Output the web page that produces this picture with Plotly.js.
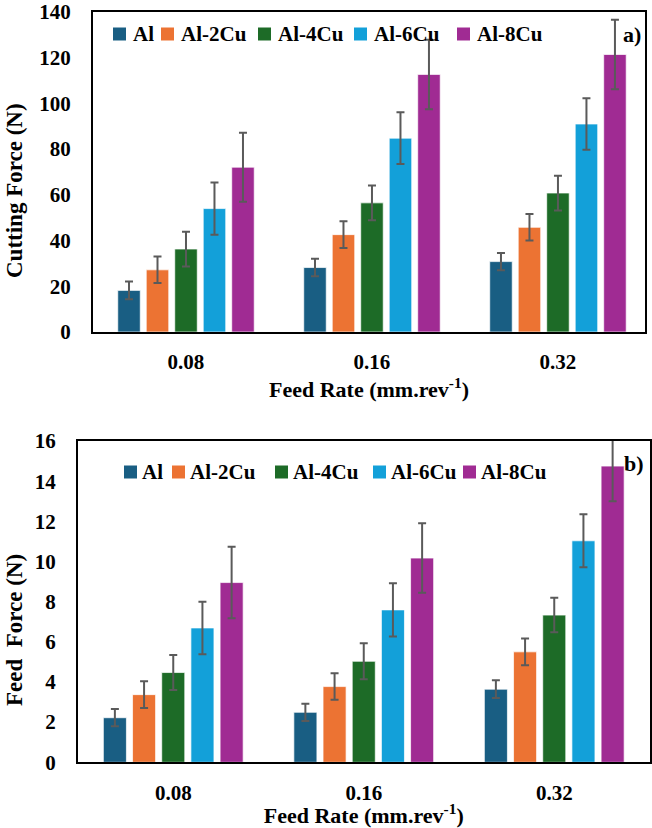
<!DOCTYPE html>
<html>
<head>
<meta charset="utf-8">
<script src="https://cdn.plot.ly/plotly-3.0.1.min.js"></script>
<style>
  html, body { margin: 0; padding: 0; background: #fff; }
  #chart { width: 652px; height: 828px; }
</style>
</head>
<body>
<div id="chart"></div>
<script>
// Feed rates (mm/rev) and alloy series
const feedRates = ['0.08', '0.16', '0.32'];
const alloys = ['Al', 'Al-2Cu', 'Al-4Cu', 'Al-6Cu', 'Al-8Cu'];
const alloyColors = ['#195E83', '#EC7333', '#1D6B27', '#13A0D9', '#A02B93'];

// a) Cutting force (N)
const cutAl   = [18.2, 28.2, 30.8];
const cut2Cu  = [27.2, 42.6, 45.8];
const cut4Cu  = [36.3, 56.5, 60.8];
const cut6Cu  = [54.0, 84.8, 91.0];
const cut8Cu  = [72.1, 112.7, 121.4];
const cutErrAl  = [3.9, 3.8, 3.8];
const cutErr2Cu = [5.8, 5.8, 5.8];
const cutErr4Cu = [7.6, 7.6, 7.6];
const cutErr6Cu = [11.4, 11.3, 11.3];
const cutErr8Cu = [15.1, 15.2, 15.2];

// b) Feed force (N)
const feedAl  = [2.22, 2.49, 3.64];
const feed2Cu = [3.37, 3.77, 5.50];
const feed4Cu = [4.47, 5.03, 7.33];
const feed6Cu = [6.69, 7.59, 11.03];
const feed8Cu = [8.95, 10.17, 14.75];
const feedErrAl  = [0.43, 0.43, 0.44];
const feedErr2Cu = [0.66, 0.66, 0.67];
const feedErr4Cu = [0.87, 0.90, 0.86];
const feedErr6Cu = [1.31, 1.33, 1.32];
const feedErr8Cu = [1.78, 1.73, 1.75];

const cutValues = [cutAl, cut2Cu, cut4Cu, cut6Cu, cut8Cu];
const cutErrors = [cutErrAl, cutErr2Cu, cutErr4Cu, cutErr6Cu, cutErr8Cu];
const feedValues = [feedAl, feed2Cu, feed4Cu, feed6Cu, feed8Cu];
const feedErrors = [feedErrAl, feedErr2Cu, feedErr4Cu, feedErr6Cu, feedErr8Cu];

const W = 652, H = 828;
const px = x => x / W;          // page px -> paper x
const py = y => 1 - y / H;      // page px -> paper y

const SERIF = '"Times New Roman", "Liberation Serif", serif';
const boldFont = (size) => ({ family: SERIF, size: size, color: '#000', weight: 'bold' });

function barTraces(values, errors, xa, ya) {
  return alloys.map((name, i) => ({
    type: 'bar',
    name: name,
    x: feedRates,
    y: values[i],
    xaxis: xa,
    yaxis: ya,
    showlegend: false,
    marker: { color: alloyColors[i], line: { color: 'rgba(255,255,255,0.7)', width: 1 } },
    error_y: { type: 'data', array: errors[i], visible: true, color: '#5A5A5A', thickness: 2, width: 4 },
    hoverinfo: 'x+y+name'
  }));
}

const traces = [
  ...barTraces(cutValues, cutErrors, 'x', 'y'),
  ...barTraces(feedValues, feedErrors, 'x2', 'y2')
];

// Hand-placed legend rows (square swatch + label)
const legendTopX = [113, 161, 258, 354, 457];
const legendBotX = [124, 172, 275, 373, 463];
const shapes = [];
const annotations = [];
function legendRow(xs, yc, gap) {
  xs.forEach((x0, i) => {
    shapes.push({
      type: 'rect', xref: 'paper', yref: 'paper',
      x0: px(x0), x1: px(x0 + 13), y0: py(yc + 6.5), y1: py(yc - 6.5),
      fillcolor: alloyColors[i], line: { width: 0 }
    });
    annotations.push({
      xref: 'paper', yref: 'paper', x: px(x0 + gap), y: py(yc),
      xanchor: 'left', yanchor: 'middle', showarrow: false,
      text: alloys[i], font: boldFont(21)
    });
  });
}
legendRow(legendTopX, 34, 18);
legendRow(legendBotX, 472, 16);

// Panel tags
annotations.push({ xref: 'paper', yref: 'paper', x: px(643), y: py(35), xanchor: 'right', yanchor: 'middle',
  showarrow: false, text: 'a)', font: boldFont(22) });
annotations.push({ xref: 'paper', yref: 'paper', x: px(646), y: py(463), xanchor: 'right', yanchor: 'middle',
  showarrow: false, text: 'b)', font: boldFont(22) });

// Y-axis titles
annotations.push({ xref: 'paper', yref: 'paper', x: px(14), y: py(191), xanchor: 'center', yanchor: 'middle',
  textangle: -90, showarrow: false, text: 'Cutting Force (N)', font: boldFont(23) });
annotations.push({ xref: 'paper', yref: 'paper', x: px(14), y: py(630), xanchor: 'center', yanchor: 'middle',
  textangle: -90, showarrow: false, text: 'Feed\u00a0 Force (N)', font: boldFont(23) });

const baseX = {
  type: 'category',
  showline: true, linecolor: '#000', linewidth: 2, mirror: true,
  showgrid: false, zeroline: false, ticks: '',
  tickfont: boldFont(21), ticklabelstandoff: 10,
  fixedrange: true
};
const baseY = {
  showline: true, linecolor: '#000', linewidth: 2, mirror: true,
  showgrid: false, zeroline: false, ticks: '',
  tickfont: boldFont(21), ticklabelstandoff: 16, ticklabeloverflow: 'allow',
  fixedrange: true
};

const layout = {
  width: W, height: H,
  margin: { l: 0, r: 0, t: 0, b: 0 },
  paper_bgcolor: '#fff', plot_bgcolor: '#fff',
  barmode: 'group', bargap: 0.234, bargroupgap: 0.21,
  showlegend: false,
  xaxis: Object.assign({}, baseX, {
    domain: [px(93), px(645)], anchor: 'y', range: [-0.5, 2.468],
    title: { text: 'Feed Rate (mm.rev<sup>-1</sup>)', font: boldFont(22), standoff: 4 }
  }),
  yaxis: Object.assign({}, baseY, {
    domain: [py(332), py(12)], anchor: 'x', range: [0, 140], dtick: 20
  }),
  xaxis2: Object.assign({}, baseX, {
    domain: [px(78), px(649.5)], anchor: 'y2', range: [-0.5, 2.5],
    title: { text: 'Feed Rate (mm.rev<sup>-1</sup>)', font: boldFont(22), standoff: 2 }
  }),
  yaxis2: Object.assign({}, baseY, {
    domain: [py(762.3), py(441)], anchor: 'x2', range: [0, 16], dtick: 2
  }),
  shapes: shapes,
  annotations: annotations
};

Plotly.newPlot('chart', traces, layout, { displayModeBar: false, staticPlot: true });
</script>
</body>
</html>
